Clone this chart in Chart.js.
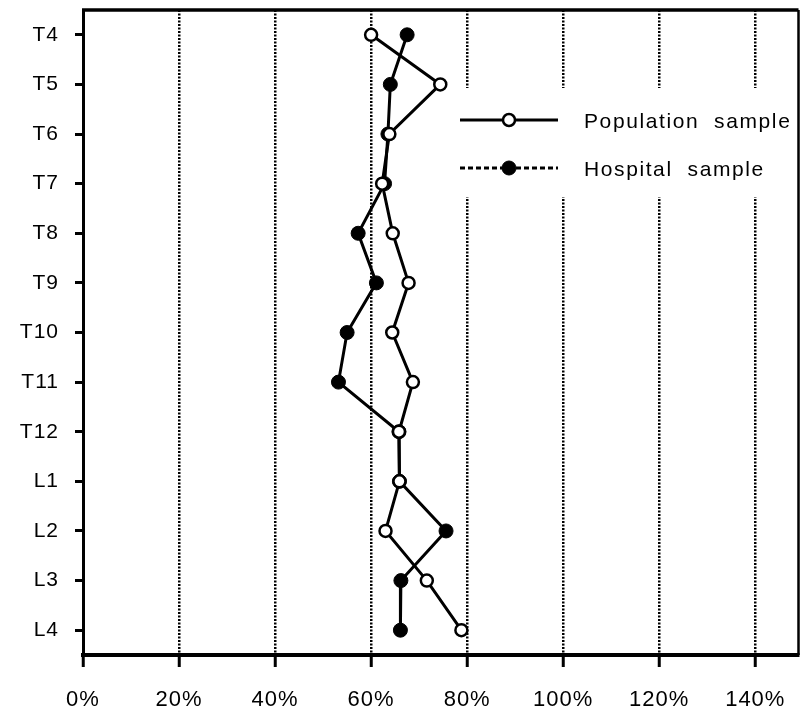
<!DOCTYPE html>
<html>
<head>
<meta charset="utf-8">
<script src="https://cdn.jsdelivr.net/npm/chart.js@4/dist/chart.umd.min.js"></script>
<style>
    html, body { margin: 0; padding: 0; background: #fff; }
    #wrap { width: 807px; height: 717px; }
</style>
</head>
<body>
<div id="wrap"><canvas id="chart"></canvas></div>
<script>
// Vértebras (eje Y) y valores (%)
const vertebrae = ['T4', 'T5', 'T6', 'T7', 'T8', 'T9', 'T10', 'T11', 'T12', 'L1', 'L2', 'L3', 'L4'];
const populationSample = [60.0, 74.4, 63.8, 62.3, 64.5, 67.8, 64.4, 68.7, 65.8, 65.9, 63.0, 71.6, 78.8];
const hospitalSample = [67.5, 64.0, 63.5, 62.8, 57.3, 61.1, 55.0, 53.2, 65.8, 65.9, 75.6, 66.2, 66.1];
const xTicks = [0, 20, 40, 60, 80, 100, 120, 140];
const seriesNames = ['Population  sample', 'Hospital  sample'];

const FONT = '"Liberation Sans", Arial, Helvetica, sans-serif';

// Leyenda dibujada dentro del área del gráfico
const insideLegend = {
    id: 'insideLegend',
    beforeDatasetsDraw(chart) {
        const ctx = chart.ctx;
        ctx.save();
        ctx.fillStyle = '#fff';
        ctx.fillRect(455, 88, 344, 109);

        const rows = [
            { y: 120, dash: [], fill: '#fff', r: 6, bw: 2.5 },
            { y: 168, dash: [5, 3], fill: '#000', r: 7, bw: 1 }
        ];
        rows.forEach((row, i) => {
            ctx.strokeStyle = '#000';
            ctx.lineWidth = 3;
            ctx.setLineDash(row.dash);
            ctx.beginPath();
            ctx.moveTo(460, row.y);
            ctx.lineTo(558, row.y);
            ctx.stroke();
            ctx.setLineDash([]);
            ctx.beginPath();
            ctx.arc(509, row.y, row.r, 0, Math.PI * 2);
            ctx.fillStyle = row.fill;
            ctx.fill();
            ctx.lineWidth = row.bw;
            ctx.stroke();

            ctx.fillStyle = '#000';
            ctx.font = '21px ' + FONT;
            ctx.letterSpacing = '1.6px';
            ctx.textBaseline = 'middle';
            ctx.textAlign = 'left';
            ctx.fillText(seriesNames[i], 584, row.y + 2);
        });
        ctx.restore();
    },
    beforeDraw(chart) {
        chart.ctx.letterSpacing = '1px';
    },
    afterDraw(chart) {
        const { ctx, chartArea } = chart;
        ctx.save();
        ctx.strokeStyle = '#000';
        ctx.setLineDash([]);
        ctx.lineWidth = 3.5;
        ctx.beginPath();
        ctx.moveTo(chartArea.left - 1, chartArea.top);
        ctx.lineTo(chartArea.right, chartArea.top);
        ctx.stroke();
        ctx.lineWidth = 2.5;
        ctx.beginPath();
        ctx.moveTo(chartArea.right, chartArea.top);
        ctx.lineTo(chartArea.right, chartArea.bottom);
        ctx.stroke();
        ctx.restore();
    }
};

const ctx = document.getElementById('chart').getContext('2d');
new Chart(ctx, {
    type: 'line',
    data: {
        labels: vertebrae,
        datasets: [
            {
                label: seriesNames[0],
                data: populationSample,
                borderColor: '#000',
                borderWidth: 3,
                pointRadius: 6,
                pointBorderWidth: 2.5,
                pointBackgroundColor: '#fff',
                pointBorderColor: '#000',
                tension: 0
            },
            {
                label: seriesNames[1],
                data: hospitalSample,
                borderColor: '#000',
                borderWidth: 3,
                pointRadius: 7,
                pointBorderWidth: 1,
                pointBackgroundColor: '#000',
                pointBorderColor: '#000',
                tension: 0
            }
        ]
    },
    options: {
        indexAxis: 'y',
        responsive: true,
        maintainAspectRatio: false,
        animation: false,
        layout: { padding: { top: 10, right: 5, left: 0, bottom: 0 } },
        plugins: {
            legend: { display: false },
            tooltip: { enabled: false }
        },
        scales: {
            x: {
                type: 'linear',
                min: 0,
                max: 149,
                afterBuildTicks: (scale) => {
                    scale.ticks = xTicks.map(v => ({ value: v }));
                },
                afterFit: (scale) => {
                    scale.height = 62;
                    scale.paddingLeft = 0;
                    scale.paddingRight = 0;
                },
                grid: {
                    color: (c) => (c.tick && c.tick.value === 0 ? 'rgba(0,0,0,0)' : '#000'),
                    lineWidth: 2.5,
                    tickColor: '#000',
                    tickWidth: 3,
                    tickLength: 12,
                    tickBorderDash: []
                },
                border: { display: true, color: '#000', width: 4, dash: [2, 1.5] },
                ticks: {
                    color: '#000',
                    padding: 20,
                    maxRotation: 0,
                    font: { family: FONT, size: 22 },
                    callback: (v) => v + '%'
                }
            },
            y: {
                type: 'category',
                offset: true,
                afterFit: (scale) => {
                    scale.width = 83;
                    scale.paddingTop = 0;
                    scale.paddingBottom = 0;
                },
                grid: {
                    drawOnChartArea: false,
                    offset: false,
                    color: '#000',
                    tickColor: '#000',
                    tickWidth: 3,
                    tickLength: 8
                },
                border: { display: true, color: '#000', width: 3 },
                ticks: {
                    color: '#000',
                    padding: 16,
                    font: { family: FONT, size: 21 }
                }
            }
        }
    },
    plugins: [insideLegend]
});
</script>
</body>
</html>
